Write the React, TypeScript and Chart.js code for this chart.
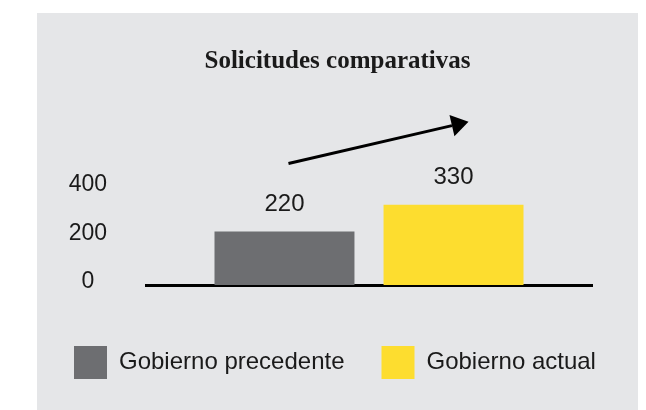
import React, { useEffect, useRef } from "react";
import { Chart, registerables } from "chart.js";

Chart.register(...registerables);

const categories = [""];
const seriesLabels = ["Gobierno precedente", "Gobierno actual"];
const seriesValues = [220, 330];
const seriesColors = ["#6d6e71", "#fddd2f"];
const yTickValues = [0, 200, 400];
const titleText = "Solicitudes comparativas";
// trend arrow annotation, in data units
const arrowFromValue = 500;
const arrowToValue = 672;

const valueLabelPlugin = {
  id: "valueLabels",
  afterDatasetsDraw(chart: any) {
    const ctx = chart.ctx;
    ctx.save();
    ctx.font = "24px 'Liberation Sans', Arial, sans-serif";
    ctx.fillStyle = "#1a1a1a";
    ctx.textAlign = "center";
    ctx.textBaseline = "middle";
    chart.data.datasets.forEach((ds: any, i: number) => {
      const meta = chart.getDatasetMeta(i);
      meta.data.forEach((bar: any, j: number) => {
        ctx.fillText(String(ds.data[j]), bar.x, bar.y - 27);
      });
    });
    ctx.restore();
  },
};

const arrowPlugin = {
  id: "trendArrow",
  afterDatasetsDraw(chart: any) {
    const ctx = chart.ctx;
    const y = chart.scales.y;
    const b0 = chart.getDatasetMeta(0).data[0];
    const b1 = chart.getDatasetMeta(1).data[0];
    if (!b0 || !b1) return;
    const x0 = b0.x + 4;
    const y0 = y.getPixelForValue(arrowFromValue);
    const x1 = b1.x + 15;
    const y1 = y.getPixelForValue(arrowToValue);
    const ang = Math.atan2(y1 - y0, x1 - x0);
    const headLen = 17;
    const headHalf = 11;
    const bx = x1 - headLen * Math.cos(ang);
    const by = y1 - headLen * Math.sin(ang);
    ctx.save();
    ctx.strokeStyle = "#000";
    ctx.fillStyle = "#000";
    ctx.lineWidth = 3;
    ctx.beginPath();
    ctx.moveTo(x0, y0);
    ctx.lineTo(bx, by);
    ctx.stroke();
    ctx.beginPath();
    ctx.moveTo(x1, y1);
    ctx.lineTo(bx + headHalf * Math.sin(ang), by - headHalf * Math.cos(ang));
    ctx.lineTo(bx - headHalf * Math.sin(ang), by + headHalf * Math.cos(ang));
    ctx.closePath();
    ctx.fill();
    ctx.restore();
  },
};

export default function App() {
  const ref = useRef<HTMLCanvasElement>(null);
  useEffect(() => {
    if (!ref.current) return;
    const chart = new Chart(ref.current, {
      type: "bar",
      data: {
        labels: categories,
        datasets: seriesLabels.map((label, i) => ({
          label,
          data: [seriesValues[i]],
          backgroundColor: seriesColors[i],
          borderWidth: 0,
          barPercentage: 0.828,
          categoryPercentage: 0.758,
        })),
      },
      options: {
        animation: false,
        responsive: false,
        layout: { padding: 0 },
        plugins: {
          tooltip: { enabled: false },
          title: {
            display: true,
            text: titleText,
            color: "#1a1a1a",
            font: { family: "'Liberation Serif', 'DejaVu Serif', serif", size: 25, weight: "bold" },
            padding: { top: 34, bottom: 38 },
          },
          legend: {
            position: "bottom",
            align: "start",
            labels: {
              boxWidth: 33,
              boxHeight: 33,
              padding: 37,
              color: "#1a1a1a",
              font: { family: "'Liberation Sans', Arial, sans-serif", size: 24 },
            },
          },
        },
        scales: {
          x: {
            z: 1,
            grid: { display: false, drawTicks: false },
            ticks: { display: false },
            border: { display: true, color: "#000", width: 3 },
            afterFit: (s: any) => {
              s.height = 24;
            },
          },
          y: {
            min: 0,
            max: 700,
            grid: { display: false, drawTicks: false },
            border: { display: false },
            afterBuildTicks: (s: any) => {
              s.ticks = yTickValues.map((v) => ({ value: v }));
            },
            afterFit: (s: any) => {
              s.width = 109;
            },
            ticks: {
              padding: 39,
              crossAlign: "center",
              labelOffset: -3,
              color: "#1a1a1a",
              font: { family: "'Liberation Sans', Arial, sans-serif", size: 23 },
            },
          },
          yRight: {
            position: "right",
            min: 0,
            max: 700,
            grid: { display: false, drawTicks: false },
            border: { display: false },
            ticks: { display: false },
            afterFit: (s: any) => {
              s.width = 46;
            },
          },
        },
      },
      plugins: [valueLabelPlugin, arrowPlugin],
    } as any);
    return () => chart.destroy();
  }, []);
  return (
    <div
      style={{
        position: "absolute",
        left: 37,
        top: 13,
        width: 601,
        height: 397,
        overflow: "hidden",
        background: "#e5e6e8",
      }}
    >
      <canvas ref={ref} width={601} height={376} style={{ display: "block" }} />
    </div>
  );
}
